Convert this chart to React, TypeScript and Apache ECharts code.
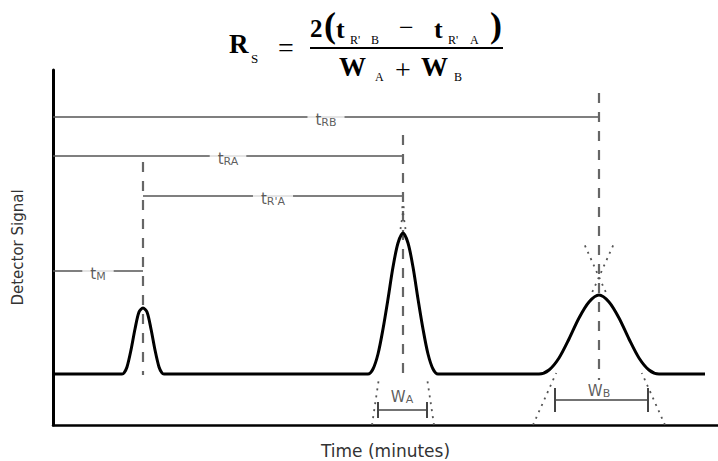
import React, { useEffect, useRef } from "react";
import * as echarts from "echarts";

// Chromatogram trace: [time, detector signal]
const signal: [number, number][] = [
  [0, 51], [69, 51], [71, 52], [74, 58], [78, 75], [82, 96], [86, 113], [90, 117],
  [94, 113], [98, 96], [102, 75], [106, 58], [109, 52], [111, 51],
  [315, 51], [320, 56], [325, 71], [330, 96], [335, 126], [340, 158], [345, 182], [350, 192],
  [355, 182], [360, 158], [365, 126], [370, 96], [375, 71], [380, 56], [385, 51],
  [486, 51], [496, 55], [506, 67], [516, 86], [526, 107], [536, 123], [546, 130],
  [556, 123], [566, 107], [576, 86], [586, 67], [596, 55], [606, 51], [652, 51],
];

// Retention-time brackets
const bracketSubs = ["RB", "RA", "R'A", "M"];
const bracketFrom = [0, 0, 90, 0];
const bracketTo = [546, 350, 350, 90];
const bracketLevel = [308, 269, 229, 154];

// Peak apex markers (dashed verticals)
const peakCenters = [90, 350, 546];
const markerTop = [263, 290, 332];
const markerBottom = [50, 50, 45];

// Tangent line segments (dotted)
const tangentSegments: [number, number][][] = [
  [[319, 0], [326, 47]], [[347.5, 196], [350.9, 219]],
  [[381, 0], [374, 47]], [[352.5, 196], [349.1, 219]],
  [[480, 0], [503.2, 52]], [[539.3, 133], [560.3, 180]],
  [[612, 0], [588.8, 52]], [[552.7, 133], [531.7, 180]],
];

// Peak widths at base
const widthSubs = ["A", "B"];
const widthFrom = [325, 502];
const widthTo = [374, 595];
const widthLevel = [15, 25];
const widthTick = [8, 12];
const widthLabelX = [349, 546];
const widthLabelY = [30, 36];

const SANS = '"DejaVu Sans", "Liberation Sans", sans-serif';
const SERIF = '"Liberation Serif", "DejaVu Serif", serif';

export default function App() {
  const ref = useRef<HTMLDivElement>(null);
  useEffect(() => {
    if (!ref.current) return;
    const chart = echarts.init(ref.current, null, { renderer: "svg" });
    const series: any[] = [];

    bracketSubs.forEach((_, i) => {
      series.push({
        type: "line", silent: true, symbol: "none", z: 2,
        data: [[bracketFrom[i], bracketLevel[i]], [bracketTo[i], bracketLevel[i]]],
        lineStyle: { color: "#555", width: 1.5 },
      });
    });
    peakCenters.forEach((x, i) => {
      series.push({
        type: "line", silent: true, symbol: "none", z: 3,
        data: [[x, markerTop[i]], [x, markerBottom[i]]],
        lineStyle: { color: "#666", width: 2.2, type: [10, 9] },
      });
    });
    tangentSegments.forEach((seg) => {
      series.push({
        type: "line", silent: true, symbol: "none", z: 3,
        data: seg,
        lineStyle: { color: "#555", width: 1.8, type: [2, 5] },
      });
    });
    widthSubs.forEach((_, i) => {
      const lineStyle = { color: "#444", width: 1.5 };
      series.push({
        type: "line", silent: true, symbol: "none", z: 3, lineStyle,
        data: [[widthFrom[i], widthLevel[i]], [widthTo[i], widthLevel[i]]],
      });
      [widthFrom[i], widthTo[i]].forEach((x) => {
        series.push({
          type: "line", silent: true, symbol: "none", z: 3,
          lineStyle: { color: "#444", width: 2 },
          data: [[x, widthLevel[i] - widthTick[i]], [x, widthLevel[i] + widthTick[i]]],
        });
      });
    });
    series.push({
      type: "line", silent: true, symbol: "none", smooth: 0.3, z: 4,
      data: signal,
      lineStyle: { color: "#000", width: 3 },
    });
    const rich = {
      t: { fontSize: 15, fontFamily: SANS, color: "#333", lineHeight: 15, verticalAlign: "top" },
      w: { fontSize: 15, fontFamily: SANS, color: "#333", lineHeight: 15, verticalAlign: "top" },
      s: { fontSize: 11, fontFamily: SANS, color: "#333", lineHeight: 11, padding: [9, 0, 0, 0], verticalAlign: "bottom" },
    };
    series.push({
      type: "scatter", silent: true, symbolSize: 0, z: 6,
      data: bracketSubs.map((sub, i) => ({
        value: [(bracketFrom[i] + bracketTo[i]) / 2, bracketLevel[i]],
        label: { formatter: `{t|t}{s|${sub}}` },
      })),
      label: {
        show: true, position: "inside", backgroundColor: "#fff", padding: [0, 8, 0, 8],
        offset: [0, 3], rich,
      },
    });
    series.push({
      type: "scatter", silent: true, symbolSize: 0, z: 6,
      data: widthSubs.map((sub, i) => ({
        value: [widthLabelX[i], widthLabelY[i]],
        label: { formatter: `{w|W}{s|${sub}}` },
      })),
      label: { show: true, position: "inside", offset: [0, 2], rich },
    });

    const txt = (text: string, x: number, y: number, size: number, bold = true) => ({
      type: "text", x, y, silent: true,
      style: {
        text, fill: "#000", fontFamily: SERIF, fontSize: size,
        fontWeight: bold ? "bold" : "normal", align: "left", verticalAlign: "middle",
      },
    });

    chart.setOption({
      animation: false,
      grid: { left: 53, right: 0, top: 70, bottom: 36, containLabel: false, outerBoundsMode: "none" },
      xAxis: {
        type: "value", min: 0, max: 665,
        name: "Time (minutes)", nameLocation: "middle", nameGap: 17,
        nameTextStyle: { fontFamily: SANS, fontSize: 17, color: "#333", verticalAlign: "top" },
        axisLine: { show: true, lineStyle: { color: "#000", width: 2.5 } },
        axisTick: { show: false }, axisLabel: { show: false }, splitLine: { show: false },
      },
      yAxis: {
        type: "value", min: 0, max: 355,
        name: "Detector Signal", nameLocation: "middle", nameGap: 28, nameRotate: 90,
        nameTextStyle: { fontFamily: SANS, fontSize: 15, color: "#333" },
        axisLine: { show: true, lineStyle: { color: "#000", width: 3 } },
        axisTick: { show: false }, axisLabel: { show: false }, splitLine: { show: false },
      },
      series,
      graphic: [
        txt("R", 229, 44, 27),
        txt("S", 251, 58, 13, false),
        txt("=", 278, 47, 28, false),
        { type: "line", silent: true, shape: { x1: 310, y1: 48, x2: 503, y2: 48 }, style: { stroke: "#000", lineWidth: 2 } },
        txt("2", 310, 28, 25),
        txt("(", 324, 25, 36),
        txt("t", 336, 29, 26),
        txt("R'", 350, 40, 12, false),
        txt("B", 371, 40, 12, false),
        txt("−", 399, 27, 26, false),
        txt("t", 434, 29, 26),
        txt("R'", 448, 40, 12, false),
        txt("A", 470, 40, 12, false),
        txt(")", 490, 25, 36),
        txt("W", 339, 67, 27),
        txt("A", 375, 77, 12, false),
        txt("+", 395, 69, 28, false),
        txt("W", 421, 67, 27),
        txt("B", 454, 77, 12, false),
      ],
    });
    return () => chart.dispose();
  }, []);
  return <div ref={ref} style={{ width: 718, height: 461, position: "absolute", left: 0, top: 0 }} />;
}
